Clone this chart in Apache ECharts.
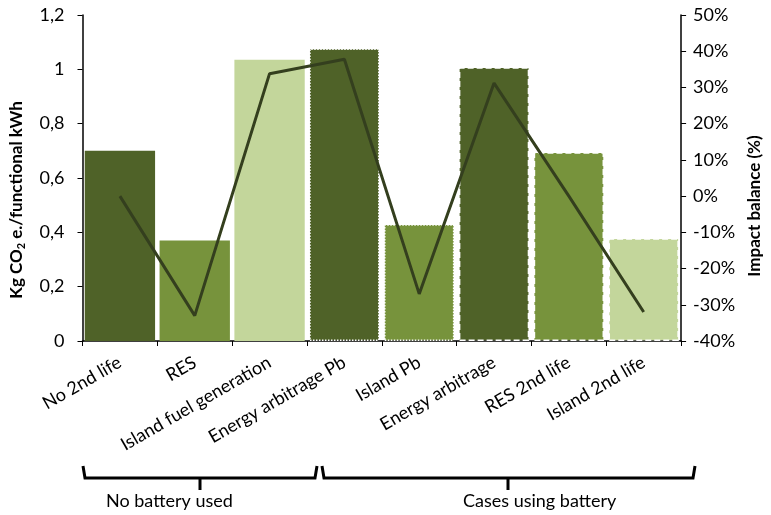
<!DOCTYPE html>
<html>
<head>
  <meta charset="utf-8">
  <title>Impact balance</title>
  <script src="https://cdn.jsdelivr.net/npm/echarts@6/dist/echarts.min.js"></script>
  <style>
    html, body { margin: 0; padding: 0; background: #fff; }
    #main { width: 771px; height: 515px; }
  </style>
</head>
<body>
  <div id="main"></div>
  <script>
  // categories and values
  var categories = ['No 2nd life', 'RES', 'Island fuel generation', 'Energy arbitrage Pb',
                    'Island Pb', 'Energy arbitrage', 'RES 2nd life', 'Island 2nd life'];
  var co2Values = [0.70, 0.37, 1.035, 1.077, 0.43, 1.008, 0.695, 0.378];
  var balanceValues = [0, -33, 33.8, 37.8, -27, 31.2, 0, -32];
  var barColors = ['#4f6228', '#77933c', '#c3d69b', '#4f6228', '#77933c', '#4f6228', '#77933c', '#c3d69b'];
  var borderTypes = [null, null, null, 'dotted', 'dotted', 'dashed', 'dashed', 'dashed'];
  var leftTicks = ['0', '0,2', '0,4', '0,6', '0,8', '1', '1,2'];
  var groupLabels = ['No battery used', 'Cases using battery'];

  var font = 'Lato';
  var chart = echarts.init(document.getElementById('main'));

  var barData = co2Values.map(function (v, i) {
    var st = { color: barColors[i] };
    if (borderTypes[i]) {
      st.borderColor = '#ffffff';
      st.borderWidth = 1.5;
      st.borderType = borderTypes[i];
    }
    return { value: v, itemStyle: st };
  });

  // curly-ish brackets under the axis
  function bracket(x1, x2, xm) {
    return {
      type: 'polyline',
      shape: { points: [[x1, 466], [x1 + 2, 478], [xm, 478], [xm, 490], [xm, 478], [x2 - 2, 478], [x2, 466]] },
      style: { stroke: '#000', lineWidth: 3, fill: null }
    };
  }

  var option = {
    animation: false,
    grid: { left: 82, right: 86, top: 15, bottom: 174 },
    xAxis: {
      type: 'category',
      data: categories,
      axisLine: { lineStyle: { color: '#000', width: 1.5 } },
      axisTick: { show: true, alignWithLabel: false, length: 5, lineStyle: { color: '#000' } },
      axisLabel: { rotate: 30, color: '#000', fontFamily: font, fontSize: 18, interval: 0, margin: 20 }
    },
    yAxis: [
      {
        type: 'value', min: 0, max: 1.2, interval: 0.2,
        name: 'Kg CO{sub|2} e./functional kWh',
        nameLocation: 'middle', nameGap: 56, nameRotate: 90,
        nameTextStyle: {
          color: '#000', fontFamily: font, fontSize: 17, fontWeight: 'bold',
          padding: [0, 44, 0, 0],
          rich: { sub: { fontSize: 11, fontWeight: 'bold', fontFamily: font, padding: [9, 0, 0, 0] } }
        },
        splitLine: { show: false },
        axisLine: { show: true, lineStyle: { color: '#000', width: 1.5 } },
        axisTick: { show: true, inside: false, length: 5, lineStyle: { color: '#000' } },
        axisLabel: {
          color: '#000', fontFamily: font, fontSize: 18, margin: 18,
          formatter: function (v) { return leftTicks[Math.round(v / 0.2)]; }
        }
      },
      {
        type: 'value', min: -40, max: 50, interval: 10,
        name: 'Impact balance (%)',
        nameLocation: 'middle', nameGap: 55, nameRotate: 90,
        nameTextStyle: { color: '#000', fontFamily: font, fontSize: 17, fontWeight: 'bold', padding: [0, 56, 0, 0] },
        splitLine: { show: false },
        axisLine: { show: true, lineStyle: { color: '#000', width: 1.5 } },
        axisTick: { show: true, length: 5, lineStyle: { color: '#000' } },
        axisLabel: { color: '#000', fontFamily: font, fontSize: 18, margin: 12, formatter: '{value}%' }
      }
    ],
    series: [
      {
        name: 'CO2', type: 'bar', yAxisIndex: 0,
        barCategoryGap: '6%',
        data: barData
      },
      {
        name: 'Impact balance', type: 'line', yAxisIndex: 1,
        data: balanceValues,
        symbol: 'none',
        lineStyle: { color: '#343f1e', width: 3 }
      }
    ],
    graphic: [
      bracket(83, 317, 200),
      bracket(322, 695, 508),
      { type: 'text', left: 106, top: 492, style: { text: groupLabels[0], font: '18px Lato', fill: '#000' } },
      { type: 'text', left: 463, top: 492, style: { text: groupLabels[1], font: '18px Lato', fill: '#000' } }
    ]
  };

  chart.setOption(option);
  </script>
</body>
</html>
